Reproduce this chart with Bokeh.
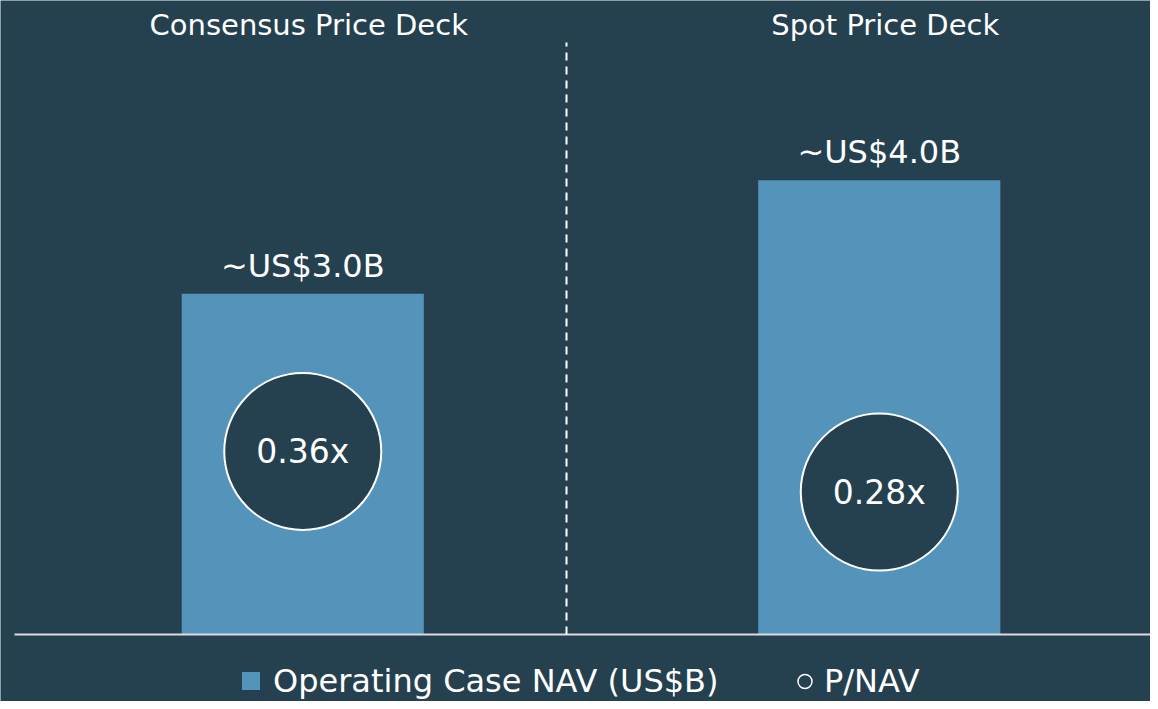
from bokeh.plotting import figure
from bokeh.models import Range1d, ColumnDataSource, Legend, LegendItem
from bokeh.core.properties import value
from bokeh.embed import file_html
from bokeh.resources import INLINE

# ---- data ----
categories = ["Consensus Price Deck", "Spot Price Deck"]
nav_values = [3.0, 4.0]            # Operating Case NAV (US$B)
nav_labels = ["~US$3.0B", "~US$4.0B"]
pnav_values = [0.36, 0.28]         # P/NAV multiple
pnav_labels = ["0.36x", "0.28x"]

# ---- style ----
BG = "#254150"
BAR = "#5594BA"
FONT = "DejaVu Sans"
W, H = 1150, 701

xs = [i + 0.5 for i in range(len(categories))]
src = ColumnDataSource(dict(x=xs, nav=nav_values, nav_lbl=nav_labels,
                            pnav=pnav_values, pnav_lbl=pnav_labels, cat=categories))

p = figure(width=W, height=H, output_backend="svg", toolbar_location=None,
           x_range=Range1d(-0.0243, 1.9705), y_range=Range1d(-0.590, 5.5825),
           min_border=0, x_axis_location=None, y_axis_location=None,
           background_fill_color=BG, border_fill_color=BG, outline_line_color=None)
p.grid.visible = False
p.extra_y_ranges = {"pnav": Range1d(-0.1318, 1.2468)}

# bars
bars = p.vbar(x="x", top="nav", width=0.42, bottom=0, source=src,
              fill_color=BAR, line_color=None)

# baseline
p.segment(x0=[0], y0=[0], x1=[len(categories)], y1=[0], line_color="#D9DCE0", line_width=2)

# divider
p.segment(x0=[0.9575], y0=[0], x1=[0.9575], y1=[5.2127], line_color="#FFFFFF",
          line_width=2, line_dash="8 6")

# value labels
p.text(x="x", y="nav", text="nav_lbl", source=src, text_color="white",
       text_font=value(FONT), text_font_size="32px", text_align="center",
       text_baseline="middle", y_offset=-28)

# category titles
p.text(x="x", y=5.5825, text="cat", source=src, text_color="white",
       text_font=value(FONT), text_font_size="29px", text_align="center",
       text_baseline="middle", y_offset=24, x_offset=6)

# P/NAV circles
circ = p.scatter(x="x", y="pnav", source=src, y_range_name="pnav", size=157,
                 fill_color=BG, line_color="white", line_width=2)
p.text(x="x", y="pnav", text="pnav_lbl", source=src, y_range_name="pnav",
       text_color="white", text_font=value(FONT), text_font_size="33px",
       text_align="center", text_baseline="middle")

# legend proxies (hidden, share the chart data)
proxy_sq = p.scatter(x="x", y="nav", source=src, marker="square", fill_color=BAR,
                     line_color=None, visible=False)
proxy_ci = p.scatter(x="x", y="pnav", source=src, y_range_name="pnav", marker="circle",
                     fill_color=BG, line_color="white", line_width=1.5, visible=False)

common = dict(border_line_color=None, background_fill_alpha=0, padding=0, margin=0,
              label_text_color="white", label_text_font=FONT, label_text_font_size="32px",
              orientation="horizontal", inactive_fill_alpha=0)
leg1 = Legend(items=[LegendItem(label="Operating Case NAV (US$B)", renderers=[proxy_sq])],
              location=(228, -2), glyph_width=45, glyph_height=45, label_standoff=-6, **common)
leg2 = Legend(items=[LegendItem(label="P/NAV", renderers=[proxy_ci])],
              location=(787, 0), glyph_width=35, glyph_height=40, label_standoff=2, **common)
p.add_layout(leg1, "center")
p.add_layout(leg2, "center")

html = file_html(p, INLINE)
html = html.replace("<body>", '<body style="background-color:%s;">' % BG, 1)
open("out.html", "w").write(html)
